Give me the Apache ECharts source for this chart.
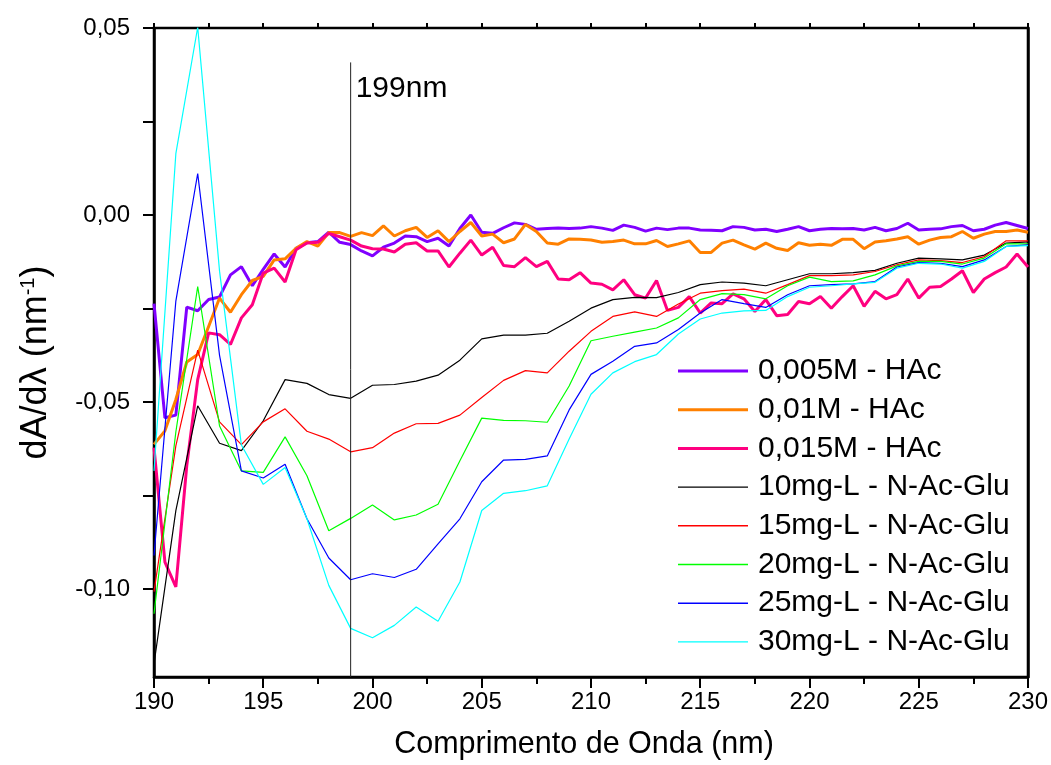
<!DOCTYPE html>
<html>
<head>
<meta charset="utf-8">
<script src="https://cdn.jsdelivr.net/npm/echarts@6/dist/echarts.min.js"></script>
<style>
html, body { margin: 0; padding: 0; background: #fff; }
#chart { width: 1051px; height: 765px; }
</style>
</head>
<body>
<div id="chart"></div>
<script>
// wavelengths (nm)
var wlHAc = [190, 190.5, 191, 191.5, 192, 192.5, 193, 193.5, 194, 194.5, 195, 195.5, 196, 196.5, 197, 197.5, 198, 198.5, 199, 199.5,
  200, 200.5, 201, 201.5, 202, 202.5, 203, 203.5, 204, 204.5, 205, 205.5, 206, 206.5, 207, 207.5, 208, 208.5, 209, 209.5,
  210, 210.5, 211, 211.5, 212, 212.5, 213, 213.5, 214, 214.5, 215, 215.5, 216, 216.5, 217, 217.5, 218, 218.5, 219, 219.5,
  220, 220.5, 221, 221.5, 222, 222.5, 223, 223.5, 224, 224.5, 225, 225.5, 226, 226.5, 227, 227.5, 228, 228.5, 229, 229.5, 230];
var wlGlu = [190, 191, 192, 193, 194, 195, 196, 197, 198, 199, 200, 201, 202, 203, 204, 205, 206, 207, 208, 209,
  210, 211, 212, 213, 214, 215, 216, 217, 218, 219, 220, 221, 222, 223, 224, 225, 226, 227, 228, 229, 230];

// dA/dλ, acetic acid blanks
var hac005 = [-0.0237, -0.0542, -0.0535, -0.0246, -0.0256, -0.0226, -0.0219, -0.016, -0.0138, -0.0189, -0.0145, -0.0104, -0.0139, -0.0089, -0.0074, -0.0071, -0.0046, -0.0073, -0.0079, -0.0096,
  -0.0109, -0.0086, -0.0075, -0.0056, -0.0058, -0.0071, -0.0062, -0.0083, -0.0036, 0.0, -0.0046, -0.0049, -0.0034, -0.0021, -0.0025, -0.0038, -0.0036, -0.0035, -0.0036, -0.0035,
  -0.0031, -0.0035, -0.0041, -0.0027, -0.0033, -0.0043, -0.0035, -0.0039, -0.0035, -0.0035, -0.004, -0.0041, -0.0042, -0.0031, -0.0033, -0.004, -0.0038, -0.0044, -0.0038, -0.0031,
  -0.0042, -0.0038, -0.0036, -0.0037, -0.0036, -0.004, -0.0033, -0.0042, -0.0036, -0.0022, -0.004, -0.0038, -0.0037, -0.0031, -0.0028, -0.0042, -0.0038, -0.0027, -0.002, -0.0028, -0.0036];
var hac01 = [-0.0613, -0.0577, -0.0493, -0.0393, -0.0373, -0.0298, -0.0222, -0.026, -0.0213, -0.0175, -0.0164, -0.012, -0.0117, -0.0089, -0.0071, -0.0083, -0.0047, -0.0047, -0.0057, -0.0047,
  -0.0055, -0.0029, -0.0056, -0.0042, -0.0033, -0.006, -0.0042, -0.0071, -0.0044, -0.002, -0.0056, -0.0051, -0.0074, -0.0064, -0.0025, -0.0044, -0.0075, -0.0078, -0.0064, -0.0065,
  -0.0067, -0.0073, -0.0071, -0.0067, -0.0077, -0.0077, -0.0068, -0.0084, -0.0077, -0.0069, -0.01, -0.01, -0.0075, -0.0067, -0.008, -0.0091, -0.0075, -0.0089, -0.0095, -0.0074,
  -0.0081, -0.0078, -0.0081, -0.0065, -0.0065, -0.009, -0.0072, -0.0069, -0.0064, -0.0058, -0.0078, -0.0067, -0.006, -0.0058, -0.0044, -0.0062, -0.0051, -0.0044, -0.0044, -0.004, -0.0046];
var hac015 = [-0.0622, -0.0928, -0.0994, -0.067, -0.044, -0.0315, -0.032, -0.0346, -0.0275, -0.024, -0.0155, -0.0142, -0.0179, -0.0093, -0.0075, -0.0073, -0.0049, -0.0058, -0.0067, -0.0083,
  -0.009, -0.0091, -0.0099, -0.0078, -0.0074, -0.0096, -0.0096, -0.0139, -0.0102, -0.0067, -0.0107, -0.0086, -0.0135, -0.0138, -0.0114, -0.0138, -0.0124, -0.0171, -0.0173, -0.0154,
  -0.0182, -0.0185, -0.02, -0.0173, -0.0213, -0.0222, -0.0175, -0.0255, -0.0247, -0.0218, -0.0262, -0.0235, -0.0237, -0.0211, -0.0224, -0.0258, -0.0226, -0.0269, -0.0266, -0.0231,
  -0.0237, -0.0218, -0.0249, -0.0218, -0.0189, -0.0244, -0.0204, -0.0224, -0.0213, -0.0171, -0.0222, -0.0193, -0.0191, -0.0171, -0.0149, -0.0207, -0.0171, -0.0154, -0.0139, -0.0104, -0.0139];

// dA/dλ, N-Ac-Glu solutions
var glu10 = [-0.12, -0.079, -0.051, -0.061, -0.063, -0.055, -0.044, -0.045, -0.048, -0.049, -0.0455, -0.0453, -0.0444, -0.0428, -0.0388, -0.0331, -0.0321, -0.0321, -0.0316, -0.0284,
  -0.0249, -0.0226, -0.022, -0.0221, -0.0207, -0.0186, -0.0179, -0.0182, -0.0189, -0.0173, -0.0157, -0.0157, -0.0154, -0.0148, -0.0129, -0.0115, -0.0117, -0.012, -0.0107, -0.0075, -0.0072];
var glu15 = [-0.1007, -0.0617, -0.0361, -0.0553, -0.0614, -0.0553, -0.0518, -0.0578, -0.0599, -0.0633, -0.0622, -0.0583, -0.0558, -0.0557, -0.0535, -0.0488, -0.0442, -0.0416, -0.0422, -0.0364,
  -0.0311, -0.0271, -0.0259, -0.0271, -0.0238, -0.0209, -0.0202, -0.0198, -0.0209, -0.0186, -0.0162, -0.0162, -0.016, -0.0151, -0.0133, -0.012, -0.0122, -0.0127, -0.0111, -0.0069, -0.0069];
var glu20 = [-0.1066, -0.058, -0.0191, -0.0564, -0.0684, -0.0688, -0.0593, -0.0697, -0.0844, -0.0811, -0.0775, -0.0815, -0.0802, -0.0773, -0.0657, -0.0543, -0.0549, -0.055, -0.0554, -0.0457,
  -0.0336, -0.0324, -0.0313, -0.0302, -0.0275, -0.0226, -0.021, -0.0213, -0.0224, -0.0189, -0.0166, -0.0178, -0.0176, -0.016, -0.0136, -0.0124, -0.0124, -0.0131, -0.0115, -0.0077, -0.0077];
var glu25 = [-0.091, -0.023, 0.0111, -0.0375, -0.0684, -0.0703, -0.0666, -0.0812, -0.0917, -0.0975, -0.0959, -0.0969, -0.0947, -0.0879, -0.0812, -0.0713, -0.0655, -0.0653, -0.0644, -0.0521,
  -0.0426, -0.0391, -0.0351, -0.0342, -0.0306, -0.0262, -0.0226, -0.0237, -0.0247, -0.0213, -0.0189, -0.0186, -0.0184, -0.0178, -0.0139, -0.0127, -0.0129, -0.0138, -0.012, -0.0084, -0.008];
var glu30 = [-0.0684, 0.0164, 0.0502, -0.015, -0.0615, -0.072, -0.0675, -0.0812, -0.099, -0.1105, -0.113, -0.1097, -0.1048, -0.1086, -0.0981, -0.079, -0.0744, -0.0737, -0.0724, -0.0599,
  -0.0479, -0.0422, -0.0392, -0.0373, -0.0318, -0.0278, -0.0262, -0.0256, -0.0255, -0.0218, -0.0193, -0.0189, -0.0184, -0.018, -0.0142, -0.0129, -0.0131, -0.0142, -0.0124, -0.0084, -0.0082];

// 199 nm marker
var markerX = [199, 199];
var markerY = [-0.1235, 0.0408];

var yMajor = [-0.1, -0.05, 0, 0.05];
var yTicks = [-0.1, -0.075, -0.05, -0.025, 0, 0.025, 0.05];

function pairs(xs, ys) {
  return ys.map(function (v, i) { return [xs[i], v]; });
}

var chart = echarts.init(document.getElementById("chart"));

function makeSeries(name, xs, ys, color, width) {
  return {
    name: name,
    type: "line",
    data: pairs(xs, ys),
    symbol: "none",
    lineStyle: { color: color, width: width },
    itemStyle: { color: color },
    z: 3
  };
}

// flat bar as legend sample, same thickness as the line
function legendItem(name, thick) {
  return { name: name, icon: "path://M0,0H70V" + thick + "H0Z" };
}

var option = {
  animation: false,
  textStyle: { fontFamily: "Liberation Sans", color: "#000" },
  grid: {
    left: 154, right: 23, top: 28, bottom: 87,
    show: true, borderColor: "#000", borderWidth: 2.5,
    backgroundColor: "transparent"
  },
  legend: {
    orient: "vertical",
    left: 673,
    top: 351,
    itemWidth: 70,
    itemHeight: 14,
    itemGap: 8.7,
    data: [
      legendItem("0,005M - HAc", 3),
      legendItem("0,01M - HAc", 3),
      legendItem("0,015M - HAc", 3),
      legendItem("10mg-L - N-Ac-Glu", 1.4),
      legendItem("15mg-L - N-Ac-Glu", 1.4),
      legendItem("20mg-L - N-Ac-Glu", 1.4),
      legendItem("25mg-L - N-Ac-Glu", 1.4),
      legendItem("30mg-L - N-Ac-Glu", 1.4)
    ],
    textStyle: { fontSize: 30, lineHeight: 30, color: "#000", padding: [0, 0, 0, 5] }
  },
  xAxis: [
    {
      type: "value",
      min: 190, max: 230, interval: 5,
      position: "bottom",
      name: "Comprimento de Onda (nm)",
      nameLocation: "middle",
      nameGap: 52,
      nameTextStyle: { fontSize: 30.5, color: "#000", padding: [0, 14, 0, 0] },
      axisLine: { show: true, onZero: false, lineStyle: { color: "#000", width: 2.5 } },
      axisTick: { show: true, inside: false, length: 11, lineStyle: { color: "#000", width: 2 } },
      minorTick: { show: true, splitNumber: 2, length: 7, lineStyle: { color: "#000", width: 2 } },
      axisLabel: { fontSize: 24, color: "#000", margin: 13 },
      splitLine: { show: false }
    },
    {
      type: "value",
      min: 190, max: 230, interval: 5,
      position: "top",
      axisLine: { show: false, onZero: false },
      axisTick: { show: true, inside: false, length: 5, lineStyle: { color: "#000", width: 2 } },
      minorTick: { show: true, splitNumber: 2, length: 5, lineStyle: { color: "#000", width: 2 } },
      axisLabel: { show: false },
      splitLine: { show: false }
    }
  ],
  yAxis: [
    {
      type: "value",
      min: -0.1235, max: 0.05,
      position: "left",
      name: "dA/dλ (nm{sup|-1})",
      nameLocation: "middle",
      nameRotate: 90,
      nameGap: 100,
      nameTextStyle: {
        fontSize: 36, color: "#000", lineHeight: 36, padding: [0, 20, 0, 0],
        rich: { sup: { fontSize: 20, lineHeight: 36, verticalAlign: "top", padding: [0, 0, 16, 0], color: "#000" } }
      },
      axisLine: { show: true, onZero: false, lineStyle: { color: "#000", width: 2.5 } },
      axisTick: { show: true, inside: false, length: 11, customValues: yTicks, lineStyle: { color: "#000", width: 2 } },
      axisLabel: {
        fontSize: 24, color: "#000", margin: 24,
        customValues: yMajor,
        formatter: function (v) { return v.toFixed(2).replace(".", ","); }
      },
      splitLine: { show: false }
    },
    {
      type: "value",
      min: -0.1235, max: 0.05,
      position: "right",
      axisLine: { show: true, onZero: false, lineStyle: { color: "#000", width: 2.5 } },
      axisTick: { show: false },
      axisLabel: { show: false },
      splitLine: { show: false }
    }
  ],
  series: [
    makeSeries("0,005M - HAc", wlHAc, hac005, "#8000ff", 3),
    makeSeries("0,01M - HAc", wlHAc, hac01, "#ff8000", 3),
    makeSeries("0,015M - HAc", wlHAc, hac015, "#ff0080", 3),
    makeSeries("10mg-L - N-Ac-Glu", wlGlu, glu10, "#000000", 1.2),
    makeSeries("15mg-L - N-Ac-Glu", wlGlu, glu15, "#ff0000", 1.2),
    makeSeries("20mg-L - N-Ac-Glu", wlGlu, glu20, "#00ff00", 1.2),
    makeSeries("25mg-L - N-Ac-Glu", wlGlu, glu25, "#0000ff", 1.2),
    makeSeries("30mg-L - N-Ac-Glu", wlGlu, glu30, "#00ffff", 1.2),
    {
      name: "199nm",
      type: "line",
      data: pairs(markerX, markerY),
      symbol: "none",
      silent: true,
      lineStyle: { color: "#222", width: 1 },
      z: 4,
      endLabel: {
        show: true,
        formatter: "199nm",
        fontSize: 30,
        color: "#000",
        distance: 5,
        offset: [0, 26]
      }
    }
  ]
};

chart.setOption(option);
</script>
</body>
</html>
